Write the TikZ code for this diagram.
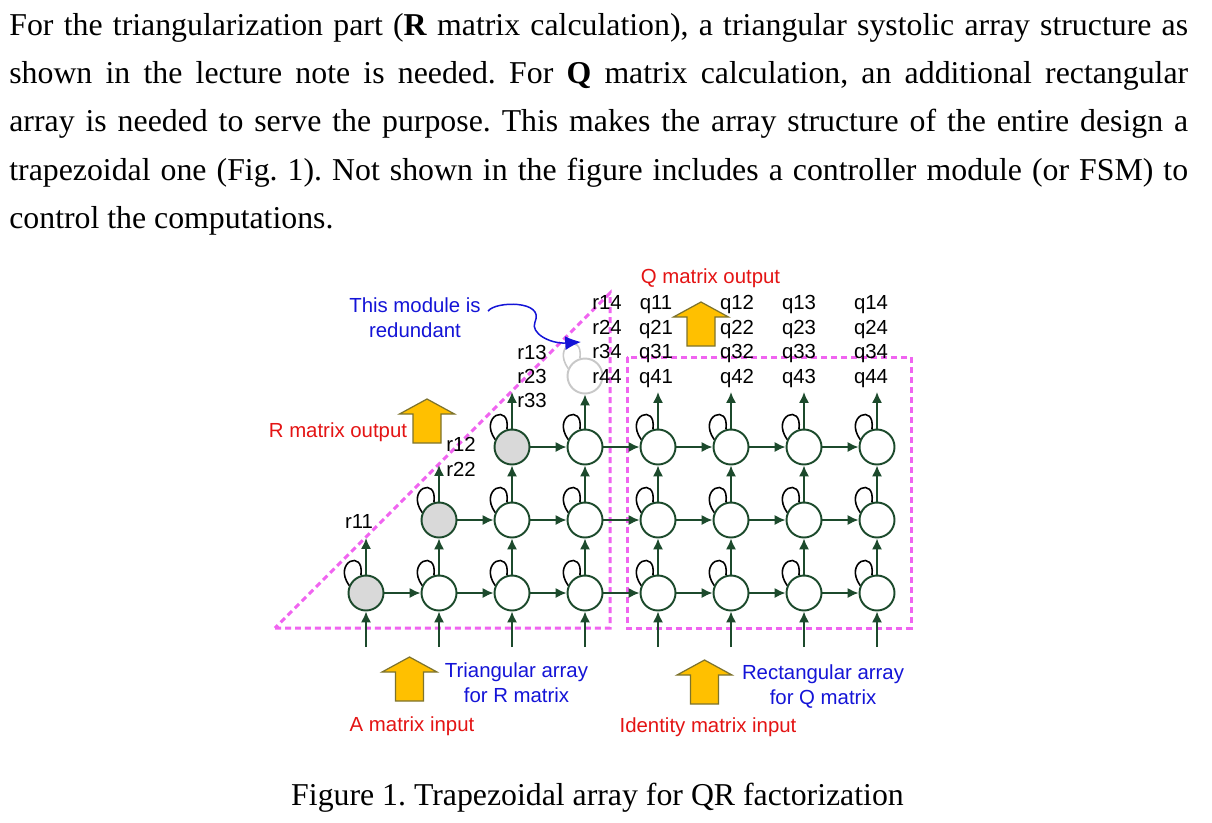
\documentclass[tikz,border=0pt]{standalone}
\usepackage{fontspec}
\setmainfont{Liberation Serif}
\setsansfont{Liberation Sans}
\usetikzlibrary{arrows.meta,calc}

\definecolor{pegreen}{RGB}{28,74,44}
\definecolor{pegray}{RGB}{217,217,217}
\definecolor{ghost}{RGB}{200,200,200}
\definecolor{regionpink}{RGB}{240,100,240}
\definecolor{labelred}{RGB}{228,20,20}
\definecolor{labelblue}{RGB}{20,20,215}
\definecolor{blockfill}{RGB}{255,192,0}
\definecolor{blockedge}{RGB}{125,115,45}

\newcommand{\bodyfont}{\fontsize{18.1}{21}\selectfont}
\newcommand{\figfont}{\sffamily\fontsize{11.6}{13}\selectfont}
\frenchspacing

\tikzset{
  pe/.style={circle,draw=pegreen,fill=white,line width=1.1pt,minimum size=0.7cm,inner sep=0pt},
  flow/.style={->,draw=pegreen,line width=1.1pt},
  selfloop/.style={draw=black,line width=0.9pt},
  region/.style={draw=regionpink,line width=1.7pt,dash pattern=on 0.12cm off 0.08cm},
  noteline/.style={draw=labelblue,line width=0.85pt,-{Latex[length=9pt,width=8pt]}},
  lbl/.style={font=\figfont,inner sep=0pt,anchor=base},
  bodyline/.style={font=\bodyfont,inner sep=0pt,anchor=base west},
  blockup/.pic={\draw[fill=blockfill,draw=blockedge,line width=0.7pt]
    (-14,0) -- (-14,-29) -- (-27.5,-29) -- (0,-44) -- (27.5,-29) -- (14,-29) -- (14,0) -- cycle;}
}

\begin{document}
\begin{tikzpicture}[x=0.02cm,y=-0.02cm,>={Latex[length=6.2pt,width=5.8pt]}]
  \path[use as bounding box,fill=white] (0,0) rectangle (1212,822);

  % text above the figure
  \node[bodyline] (line1) at (9,35) {\makebox[23.58cm][s]{For the triangularization part (\textbf{R} matrix calculation), a triangular systolic array structure as}};
  \node[bodyline] (line2) at (9,83) {\makebox[23.58cm][s]{shown in the lecture note is needed. For \textbf{Q} matrix calculation, an additional rectangular}};
  \node[bodyline] (line3) at (9,131) {\makebox[23.58cm][s]{array is needed to serve the purpose. This makes the array structure of the entire design a}};
  \node[bodyline] (line4) at (9,180) {\makebox[23.58cm][s]{trapezoidal one (Fig. 1). Not shown in the figure includes a controller module (or FSM) to}};
  \node[bodyline] (line5) at (9,228) {control the computations.};

  % triangular and rectangular regions
  \draw[region] (275,628) -- (610,628) -- (610,293) -- cycle;
  \draw[region] (627,357) rectangle (911,628);

  % processing elements
  \foreach \r in {1,2,3}{
    \foreach \c in {\r,...,8}{
      \ifnum\c=\r \def\pefill{pegray}\else \def\pefill{white}\fi
      \node[pe,fill=\pefill] (pe\r\c) at ({293+73*\c},{666-73*\r}) {};
      \draw[selfloop] (pe\r\c.156) .. controls +(125:0.58cm) and +(82:0.54cm) .. (pe\r\c.106);
    }
  }
  \node[pe,draw=ghost] (pe44) at (585,376) {};
  \draw[selfloop,draw=ghost] (pe44.156) .. controls +(125:0.58cm) and +(82:0.54cm) .. (pe44.106);

  % data flow
  \foreach \r in {1,2,3}{
    \foreach \c [evaluate=\c as \nc using int(\c+1)] in {\r,...,7}
      \draw[flow] (pe\r\c) -- (pe\r\nc);
  }
  \foreach \r/\s in {1/2,2/3}{
    \foreach \c in {\s,...,8}
      \draw[flow] (pe\r\c) -- (pe\s\c);
  }
  \draw[flow] (pe34) -- (pe44);
  \foreach \c in {1,...,8}{
    \coordinate (in\c) at ({293+73*\c},647);
    \draw[flow] (in\c) -- (pe1\c);
  }
  \coordinate (out1) at (366,538);
  \coordinate (out2) at (439,465);
  \draw[flow] (pe11) -- (out1);
  \draw[flow] (pe22) -- (out2);
  \foreach \c in {3,5,6,7,8}{
    \coordinate (out\c) at ({293+73*\c},392);
    \draw[flow] (pe3\c) -- (out\c);
  }

  % outputs of R and Q
  \node[lbl] (r11) at (359,528) {r11};
  \foreach \i in {1,2}
    \node[lbl] (r\i2) at (461,{426+25*\i}) {r\i2};
  \foreach \i in {1,2,3}
    \node[lbl] (r\i3) at (532,{334.8+24.2*\i}) {r\i3};
  \foreach \i in {1,...,4}
    \node[lbl] (r\i4) at (607,{285.5+24.4*\i}) {r\i4};
  \foreach \j/\x in {1/656,2/737,3/799,4/871}{
    \foreach \i in {1,...,4}
      \node[lbl] (q\i\j) at (\x,{285.5+24.4*\i}) {q\i\j};
  }

  % block arrows
  \pic at (427,443) {blockup};
  \pic at (701,346) {blockup};
  \pic at (409.5,701) {blockup};
  \pic at (704.5,704) {blockup};

  % captions of the figure
  \node[lbl,text=labelred] (routlbl) at (338,437) {R matrix output};
  \node[lbl,text=labelred] (qoutlbl) at (710.5,283) {Q matrix output};
  \node[lbl,text=labelred] (ainlbl) at (412,731) {A matrix input};
  \node[lbl,text=labelred] (iinlbl) at (708,732) {Identity matrix input};
  \node[lbl,text=labelblue] (tri1) at (516.5,677) {Triangular array};
  \node[lbl,text=labelblue] (tri2) at (516.5,702) {for R matrix};
  \node[lbl,text=labelblue] (rect1) at (823,679) {Rectangular array};
  \node[lbl,text=labelblue] (rect2) at (823,704) {for Q matrix};
  \node[lbl,text=labelblue] (note1) at (415,312) {This module is};
  \node[lbl,text=labelblue] (note2) at (415,337) {redundant};
  \coordinate (notetip) at (581,342);
  \draw[noteline] ([xshift=4pt,yshift=0.5pt]note1.base east) .. controls (495,301) and (545,300) .. (535,322)
    .. controls (530,333) and (550,344) .. (notetip);

  \node[bodyline,anchor=base] (caption) at (597.5,805) {Figure 1. Trapezoidal array for QR factorization};
\end{tikzpicture}
\end{document}
